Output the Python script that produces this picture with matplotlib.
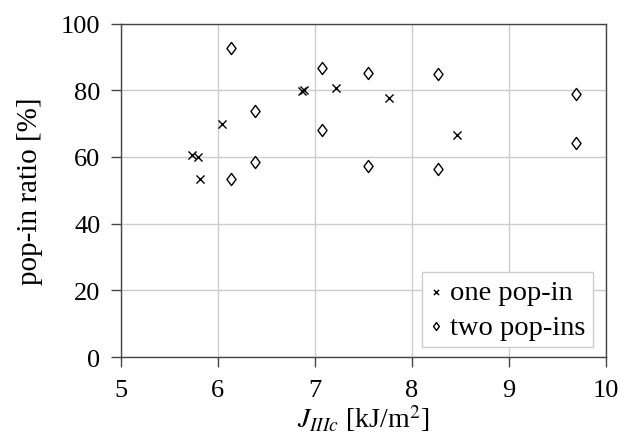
import matplotlib
matplotlib.use("Agg")
import matplotlib.pyplot as plt
from matplotlib.path import Path

# Fracture toughness J_IIIc [kJ/m^2] and pop-in ratio [%]
one_popin_j = [5.73, 5.80, 5.82, 6.04, 6.87, 6.89, 7.22, 7.77, 8.47]
one_popin_ratio = [60.7, 59.9, 53.3, 69.9, 79.9, 80.2, 80.6, 77.6, 66.5]

two_popin_j = [6.14, 6.14, 6.38, 6.38, 7.07, 7.07, 7.55, 7.55, 8.27, 8.27, 9.69, 9.69]
two_popin_ratio = [92.6, 53.5, 73.8, 58.4, 86.7, 68.1, 85.2, 57.4, 84.9, 56.3, 78.8, 64.2]

x_ticks = [5, 6, 7, 8, 9, 10]
y_ticks = [0, 20, 40, 60, 80, 100]

plt.rcParams["font.family"] = ["Liberation Serif", "DejaVu Serif"]
plt.rcParams["mathtext.fontset"] = "stix"

FS = 19

# diamond slightly narrower than tall
diamond = Path([(0, 1), (0.75, 0), (0, -1), (-0.75, 0), (0, 1)],
               [Path.MOVETO, Path.LINETO, Path.LINETO, Path.LINETO, Path.CLOSEPOLY])

fig = plt.figure(figsize=(6.2, 4.39), dpi=100)
ax = fig.add_axes([0.1947, 0.1845, 0.7823, 0.7595])

ax.scatter(one_popin_j, one_popin_ratio, marker="x", s=34, c="black",
           linewidths=1.0, label="one pop-in", zorder=3)
ax.scatter(two_popin_j, two_popin_ratio, marker=diamond, s=76, facecolors="white",
           edgecolors="black", linewidths=1.0, label="two pop-ins", zorder=3)

ax.set_xlim(5, 10)
ax.set_ylim(0, 100)
ax.set_xticks(x_ticks)
ax.set_yticks(y_ticks)
ax.grid(True, color="#cccccc", linewidth=1.0)
ax.set_axisbelow(True)

for sp in ax.spines.values():
    sp.set_color("#444444")
    sp.set_linewidth(1.0)
ax.tick_params(direction="out", length=7.2, width=1.0, color="#444444",
               labelsize=FS)
ax.tick_params(axis="y", pad=7.5)
ax.tick_params(axis="x", pad=8.5)

ax.set_xlabel(r"$J_{IIIc}$ [kJ/m$^2$]", fontsize=FS + 1, labelpad=1)
ax.set_ylabel("pop-in ratio [%]", fontsize=FS + 2, labelpad=13)

leg = ax.legend(loc="lower right", fontsize=FS + 1.5, frameon=True, fancybox=False,
                edgecolor="#cccccc", framealpha=1.0, handlelength=0.5,
                handletextpad=0.25, borderpad=0.25, labelspacing=0.3,
                markerscale=0.65, borderaxespad=0.0,
                bbox_to_anchor=(0.973, 0.03))
leg.get_frame().set_linewidth(1.0)

fig.savefig("out.png", dpi=100)
